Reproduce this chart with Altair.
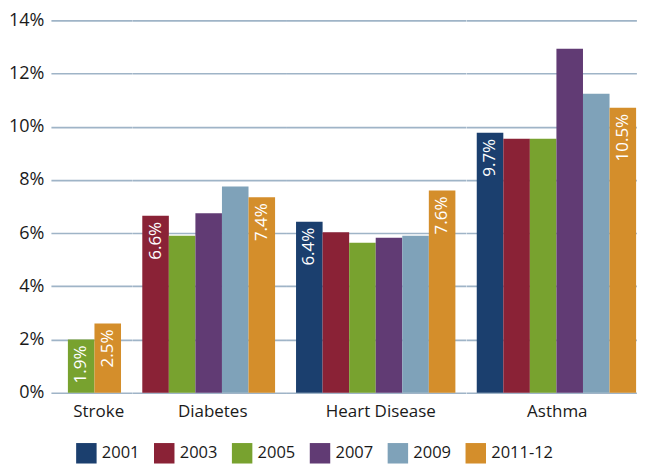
import altair as alt
import pandas as pd

categories = ["Stroke", "Diabetes", "Heart Disease", "Asthma"]
years = ["2001", "2003", "2005", "2007", "2009", "2011-12"]
colors = ["#1b3f6e", "#8a2236", "#78a22f", "#613b74", "#7fa2b9", "#d48e2b"]

stroke_vals = [None, None, 2.0, None, None, 2.6]
diabetes_vals = [None, 6.65, 5.9, 6.75, 7.75, 7.35]
heart_vals = [6.43, 6.03, 5.64, 5.83, 5.9, 7.6]
asthma_vals = [9.77, 9.55, 9.55, 12.93, 11.24, 10.71]

stroke_labels = ["", "", "1.9%", "", "", "2.5%"]
diabetes_labels = ["", "6.6%", "", "", "", "7.4%"]
heart_labels = ["6.4%", "", "", "", "", "7.6%"]
asthma_labels = ["9.7%", "", "", "", "", "10.5%"]

y_ticks = [0, 2, 4, 6, 8, 10, 12, 14]

all_vals = [stroke_vals, diabetes_vals, heart_vals, asthma_vals]
all_labels = [stroke_labels, diabetes_labels, heart_labels, asthma_labels]

rows = []
for cat, vals, labs in zip(categories, all_vals, all_labels):
    for yr, v, lab in zip(years, vals, labs):
        if v is not None:
            rows.append({"category": cat, "year": yr, "value": v, "label": lab})
df = pd.DataFrame(rows)

# layout (panel widths, outer padding, alignment, title nudges)
widths = [80.7, 154, 180.6, 170.4]
pad_outer = [0.517, 0.3947, 0.3947, 0.203]
aligns = [0.618, 0.5, 0.5, 0.972]
title_nudge = [7, 3.5, 4.6, 5.5]

FONT = "Open Sans"
TXT = "#1a1a1a"
GRID = "#9fb4c7"

color_scale = alt.Scale(domain=years, range=colors)
legend = alt.Legend(
    title=None, orient="none", direction="horizontal",
    legendX=25, legendY=423, padding=0,
    symbolType="square", symbolSize=420, symbolStrokeWidth=0,
    labelFontSize=16.5, labelFont=FONT, labelColor=TXT,
    labelOffset=5, columnPadding=14,
)

panels = []
for i, cat in enumerate(categories):
    present = [yr for yr, v in zip(years, all_vals[i]) if v is not None]
    if i == 0:
        yaxis = alt.Axis(values=y_ticks, labelExpr="datum.value + '%'", title=None,
                         domain=False, ticks=False, grid=True, labelPadding=7,
                         labelFontSize=18, labelFont=FONT, labelColor=TXT,
                         gridColor=GRID, gridWidth=1.6)
    else:
        yaxis = alt.Axis(values=y_ticks, labels=False, title=None, domain=False,
                         ticks=False, grid=True, minExtent=0, maxExtent=0,
                         gridColor=GRID, gridWidth=1.6)
    x = alt.X("year:N",
              scale=alt.Scale(domain=present, paddingInner=0,
                              paddingOuter=pad_outer[i], align=aligns[i]),
              axis=alt.Axis(title=cat, labels=False, ticks=False, domain=False,
                            titlePadding=11, titleFontSize=17, titleFont=FONT,
                            titleFontWeight="normal", titleColor=TXT,
                            titleX=widths[i] / 2 + title_nudge[i]))
    y = alt.Y("value:Q", scale=alt.Scale(domain=[0, 14], nice=False), axis=yaxis)
    bars = alt.Chart().mark_bar().encode(
        x=x, y=y, color=alt.Color("year:N", scale=color_scale, legend=legend)
    )
    text = alt.Chart().mark_text(
        angle=270, align="right", baseline="middle", dx=-6,
        color="white", fontSize=17, font=FONT
    ).encode(x=x, y=y, text="label:N").transform_filter("datum.label != ''")
    panels.append(
        alt.layer(bars, text)
        .transform_filter(alt.datum.category == cat)
        .properties(width=widths[i], height=373)
    )

chart = (
    alt.hconcat(*panels, data=df, spacing=0)
    .resolve_scale(x="independent")
    .properties(padding={"top": 3, "left": 0, "right": 0, "bottom": 0},
                background="white")
    .configure_view(stroke=None)
)

chart.save("out.html", embed_options={"renderer": "svg", "actions": False})
